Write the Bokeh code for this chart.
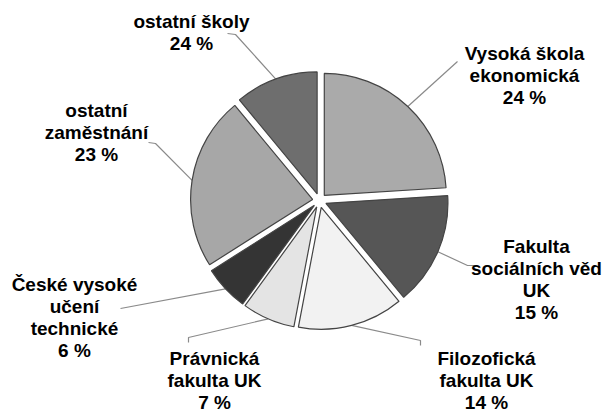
import numpy as np
from bokeh.plotting import figure
from bokeh.models import ColumnDataSource
from bokeh.core.properties import value
from bokeh.embed import file_html
from bokeh.resources import INLINE

# ---- data ----
categories = ["Vysoká škola\nekonomická", "Fakulta\nsociálních věd\nUK", "Filozofická\nfakulta UK",
              "Právnická\nfakulta UK", "České vysoké\nučení\ntechnické", "ostatní\nzaměstnání",
              "ostatní školy"]
shares = [24, 15, 14, 7, 6, 23, 11]
pct_labels = ["24 %", "15 %", "14 %", "7 %", "6 %", "23 %", "24 %"]
colors = ["#aaaaaa", "#565656", "#f2f2f2", "#e4e4e4", "#343434", "#a7a7a7", "#6e6e6e"]

# ---- layout (page px -> data) ----
W, H = 606, 414
def dx(X): return X
def dy(Y): return H - Y

cx, cy = dx(319), dy(200)
R = 122
EXPLODE = 7

label_pos = [(524, 75), (536, 279), (486, 380), (214, 380), (74, 317), (96, 132), (191, 32)]
leader_elbows = [
    [(457, 61)],
    [(467, 265), (477, 265)],
    [(420, 340), (420, 345)],
    [(188, 337), (188, 342)],
    [(120, 308)],
    [(155, 143), (148, 142)],
    [(235, 34), (227, 33)],
]

vals = np.array(shares, dtype=float)
frac = vals / vals.sum()
cum = np.concatenate([[0], np.cumsum(frac)])
start_deg = 90 - cum[1:] * 360
end_deg = 90 - cum[:-1] * 360
mid = np.radians((start_deg + end_deg) / 2)
xs = cx + EXPLODE * np.cos(mid)
ys = cy + EXPLODE * np.sin(mid)

src = ColumnDataSource(dict(x=xs, y=ys, start=np.radians(start_deg), end=np.radians(end_deg),
                            color=colors))

p = figure(width=W, height=H, x_range=(0, W), y_range=(0, H), output_backend="svg",
           toolbar_location=None, min_border=0)
p.axis.visible = False
p.grid.visible = False
p.outline_line_color = None
p.background_fill_color = "white"

# leader lines
for i in range(len(shares)):
    px = [xs[i] + R * np.cos(mid[i])] + [dx(e[0]) for e in leader_elbows[i]]
    py = [ys[i] + R * np.sin(mid[i])] + [dy(e[1]) for e in leader_elbows[i]]
    p.line(px, py, line_color="#8a8a8a", line_width=1.2)

p.wedge(x="x", y="y", radius=R, start_angle="start", end_angle="end", direction="anticlock",
        fill_color="color", line_color="#444444", line_width=1.2, source=src)

texts = [c + "\n" + l for c, l in zip(categories, pct_labels)]
tsrc = ColumnDataSource(dict(x=[dx(a) for a, b in label_pos], y=[dy(b) for a, b in label_pos], t=texts))
p.text(x="x", y="y", text="t", source=tsrc, text_align="center", text_baseline="middle",
       text_font=value("Liberation Sans"), text_font_style="bold", text_font_size="19px",
       text_line_height=1.05, text_color="#000000")

open("out.html", "w").write(file_html(p, INLINE))
